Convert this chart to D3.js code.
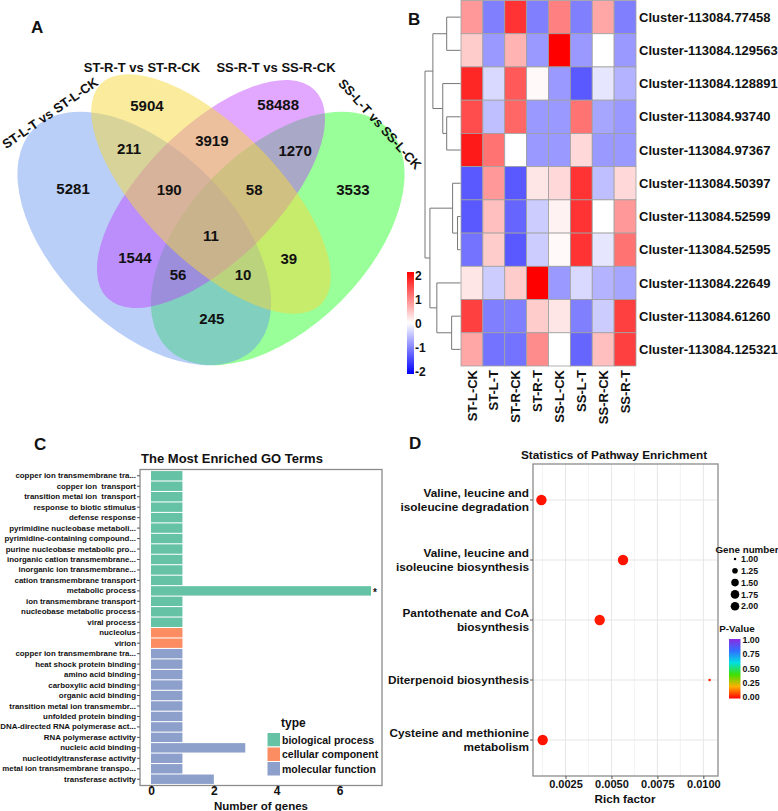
<!DOCTYPE html>
<html><head><meta charset="utf-8">
<script src="https://cdn.jsdelivr.net/npm/d3@7"></script>
<style>
body{margin:0;background:#fff;}
text{font-family:"Liberation Sans",Arial,Helvetica,sans-serif;font-weight:bold;fill:#111;}
</style>
</head><body>
<svg id="c" width="778" height="811"></svg>
<script>
// ================= DATA =================
// Panel A: Venn
const vennSets = ["ST-L-T vs ST-L-CK","ST-R-T vs ST-R-CK","SS-R-T vs SS-R-CK","SS-L-T vs SS-L-CK"];
const vennCounts = [5904,58488,211,3919,1270,5281,190,58,3533,11,1544,39,56,10,245];
// region label anchors in the Venn's unit square (VennDiagram quad layout)
const vennRegionU = [0.356,0.651,0.316,0.502,0.689,0.190,0.406,0.597,0.819,0.5,0.329,0.675,0.426,0.572,0.502];
const vennRegionV = [0.768,0.772,0.671,0.691,0.667,0.583,0.581,0.581,0.581,0.476,0.426,0.424,0.388,0.390,0.289];

// Panel B: heatmap
const heatRows = ["Cluster-113084.77458","Cluster-113084.129563","Cluster-113084.128891","Cluster-113084.93740","Cluster-113084.97367","Cluster-113084.50397","Cluster-113084.52599","Cluster-113084.52595","Cluster-113084.22649","Cluster-113084.61260","Cluster-113084.125321"];
const heatCols = ["ST-L-CK","ST-L-T","ST-R-CK","ST-R-T","SS-L-CK","SS-L-T","SS-R-CK","SS-R-T"];
const heatValues = [
 [ 0.8,-1.0, 1.6,-1.0, 1.0,-1.0, 0.7,-1.0],
 [ 0.4,-0.8, 0.6,-0.8, 2.0,-0.8, 0.0,-0.8],
 [ 1.7,-0.3, 1.3, 0.05,-0.8,-1.3,-0.2,-0.6],
 [ 1.4,-0.5, 1.2,-0.8,-0.8, 1.1,-0.7,-0.8],
 [ 1.8, 1.1, 0.0,-0.8,-0.8, 0.3,-0.8,-0.8],
 [-1.3, 0.8,-1.3, 0.2, 0.3, 1.6,-0.5, 0.3],
 [-1.3, 0.5,-1.2,-0.4, 0.1, 1.6, 0.0, 0.8],
 [-1.1, 0.4,-1.3,-0.4, 0.05, 1.6,-0.2, 1.1],
 [ 0.2,-0.4, 0.4, 2.0,-0.8,-0.3,-0.6,-0.7],
 [ 1.5,-1.0,-1.0, 0.4, 0.2,-1.0,-0.4, 1.5],
 [ 0.7,-1.1,-1.1, 0.9, 0.0,-1.2, 0.5, 1.5]
];
// row dendrogram: merge heights, leaves are row indices
const dendro = {h:36, c:[
  {h:28, c:[ {h:14, c:[0,1]}, {h:18, c:[2, {h:14, c:[3,4]}]} ]},
  {h:31, c:[ {h:8, c:[5, {h:3, c:[6,7]}]}, {h:24, c:[8, {h:9, c:[9,10]}]} ]}
]};
const heatLegendTicks = [2,1,0,-1,-2];

// Panel C: GO terms
const goTerms = ["copper ion transmembrane tra...","copper ion  transport","transition metal ion  transport","response to biotic stimulus","defense response","pyrimidine nucleobase metaboli...","pyrimidine-containing compound...","purine nucleobase metabolic pro...","inorganic cation transmembrane...","inorganic ion transmembrane...","cation transmembrane transport","metabolic process","ion transmembrane transport","nucleobase metabolic process","viral process","nucleolus","virion","copper ion transmembrane tra...","heat shock protein binding","amino acid binding","carboxylic acid binding","organic acid binding","transition metal ion transmembr...","unfolded protein binding","DNA-directed RNA polymerase act...","RNA polymerase activity","nucleic acid binding","nucleotidyltransferase activity","metal ion transmembrane transpo...","transferase activity"];
const goType = ["BP","BP","BP","BP","BP","BP","BP","BP","BP","BP","BP","BP","BP","BP","BP","CC","CC","MF","MF","MF","MF","MF","MF","MF","MF","MF","MF","MF","MF","MF"];
const goCounts = [1,1,1,1,1,1,1,1,1,1,1,7,1,1,1,1,1,1,1,1,1,1,1,1,1,1,3,1,1,2];
const goSignif = [11];
const goTypeNames = ["biological process","cellular component","molecular function"];
const goXTicks = [0,2,4,6];

// Panel D: KEGG
const pathways = ["Valine, leucine and\nisoleucine degradation","Valine, leucine and\nisoleucine biosynthesis","Pantothenate and CoA\nbiosynthesis","Diterpenoid biosynthesis","Cysteine and methionine\nmetabolism"];
const richFactor = [0.00119,0.00563,0.00436,0.01034,0.00126];
const geneNumber = [2,2,2,1,2];
const pValue = [0.02,0.02,0.03,0.04,0.02];
const richTicks = [0.0025,0.005,0.0075,0.01];
const geneLegend = [1.00,1.25,1.50,1.75,2.00];
const pLegend = [0,0.25,0.5,0.75,1];

// ================= DRAW =================
const svg = d3.select("#c");
const letter = (x,y,t)=>svg.append("text").attr("x",x).attr("y",y).attr("font-size",17).text(t);

// ---------- Panel A ----------
const A = svg.append("g");
const VS = 445;
const vu = d3.scaleLinear().domain([0,1]).range([211-0.5*VS, 211+0.5*VS]);
const vv = d3.scaleLinear().domain([0,1]).range([194+0.57*VS, 194-0.43*VS]);
const ellipses = [
 {x:0.65,y:0.47,a:0.35,b:0.20,rot:-45,color:"#00ff00",op:0.4},
 {x:0.35,y:0.47,a:0.35,b:0.20,rot:45,color:"#6495ed",op:0.45},
 {x:0.50,y:0.57,a:0.33,b:0.15,rot:-45,color:"#bf3eff",op:0.45},
 {x:0.50,y:0.57,a:0.35,b:0.15,rot:45,color:"#f5d73c",op:0.5}
];
A.selectAll("ellipse").data(ellipses).join("ellipse")
 .attr("cx",d=>vu(d.x)).attr("cy",d=>vv(d.y))
 .attr("rx",d=>vu(d.a)-vu(0)).attr("ry",d=>vu(d.b)-vu(0))
 .attr("transform",d=>`rotate(${d.rot} ${vu(d.x)} ${vv(d.y)})`)
 .attr("fill",d=>d.color).attr("fill-opacity",d=>d.op).attr("stroke","none");
A.selectAll("text.cnt").data(vennCounts).join("text").attr("class","cnt")
 .attr("x",(d,i)=>vu(vennRegionU[i])).attr("y",(d,i)=>vv(vennRegionV[i]))
 .attr("dy","0.36em").attr("text-anchor","middle").attr("font-size",15).text(d=>d);
const setLab = [
 {x:50,y:113,r:-35},{x:142,y:67,r:0},{x:276,y:67,r:0},{x:380,y:124,r:48}
];
A.selectAll("text.set").data(vennSets).join("text").attr("class","set")
 .attr("transform",(d,i)=>`translate(${setLab[i].x},${setLab[i].y}) rotate(${setLab[i].r})`)
 .attr("dy","0.36em").attr("text-anchor","middle").attr("font-size",13).text(d=>d);
letter(31,33,"A");

// ---------- Panel B ----------
const B = svg.append("g");
const hx = d3.scaleBand().domain(heatCols).range([461,636]);
const hy = d3.scaleBand().domain(d3.range(heatRows.length)).range([0.5,366]);
const hcol = d3.scaleLinear().domain([-2,0,2]).range(["#0000ff","#ffffff","#ff0000"]);
heatValues.forEach((row,ri)=>{
  B.selectAll(null).data(row).join("rect")
   .attr("x",(d,ci)=>hx(heatCols[ci])).attr("y",hy(ri))
   .attr("width",hx.bandwidth()).attr("height",hy.bandwidth())
   .attr("fill",d=>hcol(d)).attr("stroke","#a0a0a0").attr("stroke-width",0.8);
});
B.selectAll("text.rl").data(heatRows).join("text").attr("class","rl")
 .attr("x",639).attr("y",(d,i)=>hy(i)+hy.bandwidth()/2).attr("dy","0.36em")
 .attr("font-size",13).text(d=>d);
B.selectAll("text.cl").data(heatCols).join("text").attr("class","cl")
 .attr("transform",d=>`translate(${hx(d)+hx.bandwidth()/2+4.6},370) rotate(-90)`)
 .attr("text-anchor","end").attr("font-size",13).text(d=>d);
// dendrogram
const dx = d3.scaleLinear().domain([0,36]).range([460.5,425]);
const gD = B.append("g").attr("stroke","#777").attr("stroke-width",1).attr("fill","none");
function drawDendro(node){
  if (typeof node === "number") return {x:dx(0), y:hy(node)+hy.bandwidth()/2};
  const kids = node.c.map(drawDendro);
  const x = dx(node.h);
  kids.forEach(k=>gD.append("line").attr("x1",x).attr("x2",k.x).attr("y1",k.y).attr("y2",k.y));
  gD.append("line").attr("x1",x).attr("x2",x).attr("y1",kids[0].y).attr("y2",kids[1].y);
  return {x, y:(kids[0].y+kids[1].y)/2};
}
drawDendro(dendro);
// heat legend
const defs = svg.append("defs");
const hg = defs.append("linearGradient").attr("id","hg").attr("x1",0).attr("y1",1).attr("x2",0).attr("y2",0);
[-2,-1,0,1,2].forEach(v=>hg.append("stop").attr("offset",(v+2)/4).attr("stop-color",hcol(v)));
B.append("rect").attr("x",407).attr("y",272).attr("width",7).attr("height",102).attr("fill","url(#hg)");
const hl = d3.scaleLinear().domain([-2,2]).range([372,276]);
B.selectAll("text.hl").data(heatLegendTicks).join("text").attr("class","hl")
 .attr("x",415).attr("y",d=>hl(d)).attr("dy","0.36em").attr("font-size",12).text(d=>d);
letter(408,25,"B");

// ---------- Panel C ----------
const C = svg.append("g");
const cx = d3.scaleLinear().domain([-0.35,7.35]).range([140,382]);
const cy = d3.scaleBand().domain(d3.range(goTerms.length)).range([469.5,785.5]).paddingInner(0.1).paddingOuter(0.15);
const ccol = d3.scaleOrdinal().domain(["BP","CC","MF"]).range(["#66c2a5","#fc8d62","#8da0cb"]);
C.append("rect").attr("x",140).attr("y",469.5).attr("width",242).attr("height",316).attr("fill","#fff");
C.selectAll("rect.bar").data(goCounts).join("rect").attr("class","bar")
 .attr("x",cx(0)).attr("y",(d,i)=>cy(i)).attr("width",d=>cx(d)-cx(0)).attr("height",cy.bandwidth())
 .attr("fill",(d,i)=>ccol(goType[i]));
C.selectAll("text.star").data(goSignif).join("text").attr("class","star")
 .attr("x",i=>cx(goCounts[i])+2).attr("y",i=>cy(i)+cy.bandwidth()/2+5).attr("font-size",10).text("*");
C.append("rect").attr("x",140).attr("y",469.5).attr("width",242).attr("height",316)
 .attr("fill","none").attr("stroke","#8c8c8c").attr("stroke-width",1.3);
const cya = C.append("g").attr("transform","translate(140,0)")
 .call(d3.axisLeft(cy).tickSize(3).tickFormat(i=>goTerms[i]));
cya.select(".domain").remove();
cya.selectAll("line").attr("stroke","#555");
cya.selectAll("text").attr("font-size",7.9).attr("font-family",null).style("white-space","pre").attr("x",-4);
const cxa = C.append("g").attr("transform","translate(0,785.5)")
 .call(d3.axisBottom(cx).tickValues(goXTicks).tickSize(3));
cxa.select(".domain").remove();
cxa.selectAll("line").attr("stroke","#555");
cxa.selectAll("text").attr("font-size",12).attr("font-family",null).attr("y",1);
C.append("text").attr("x",261).attr("y",810).attr("text-anchor","middle").attr("font-size",11.5).text("Number of genes");
C.append("text").attr("x",232).attr("y",463).attr("text-anchor","middle").attr("font-size",13).text("The Most Enriched GO Terms");
// legend
C.append("text").attr("x",281).attr("y",727).attr("font-size",12).text("type");
goTypeNames.forEach((t,i)=>{
  C.append("rect").attr("x",267).attr("y",732.5+i*14.5).attr("width",13.5).attr("height",14.5)
   .attr("fill",ccol.range()[i]).attr("stroke","#fff").attr("stroke-width",1);
  C.append("text").attr("x",282).attr("y",732.5+i*14.5+7.25).attr("dy","0.36em").attr("font-size",10.5).text(t);
});
letter(34,450,"C");

// ---------- Panel D ----------
const D = svg.append("g");
const [rmin,rmax] = d3.extent(richFactor);
const pad = (rmax-rmin)*0.05;
const dxs = d3.scaleLinear().domain([rmin-pad,rmax+pad]).range([533,718]);
const dys = d3.scalePoint().domain(d3.range(pathways.length)).range([464,776]).padding(0.6);
const rA = d3.scaleLinear().domain([1,2]).range([1.6,27]);
const rad = g=>Math.sqrt(rA(g));
const pcol = d3.scaleLinear().domain([0,0.2,0.4,0.6,0.8,1]).range(["#ff0000","#ffb000","#40e000","#00e0e0","#3070ff","#8a2be2"]);
// grid
const minor = [0.00125,0.00375,0.00625,0.00875];
D.selectAll("line.mg").data(minor).join("line").attr("class","mg")
 .attr("x1",d=>dxs(d)).attr("x2",d=>dxs(d)).attr("y1",464).attr("y2",776).attr("stroke","#f0f0f0").attr("stroke-width",0.8);
D.selectAll("line.Mg").data(richTicks).join("line").attr("class","Mg")
 .attr("x1",d=>dxs(d)).attr("x2",d=>dxs(d)).attr("y1",464).attr("y2",776).attr("stroke","#e6e6e6").attr("stroke-width",1);
D.selectAll("line.hg").data(pathways).join("line").attr("class","hg")
 .attr("x1",533).attr("x2",718).attr("y1",(d,i)=>dys(i)).attr("y2",(d,i)=>dys(i)).attr("stroke","#e6e6e6").attr("stroke-width",1);
D.selectAll("circle.pt").data(richFactor).join("circle").attr("class","pt")
 .attr("cx",d=>dxs(d)).attr("cy",(d,i)=>dys(i)).attr("r",(d,i)=>rad(geneNumber[i]))
 .attr("fill",(d,i)=>pcol(pValue[i]));
D.append("rect").attr("x",533).attr("y",464).attr("width",185).attr("height",312)
 .attr("fill","none").attr("stroke","#8c8c8c").attr("stroke-width",1.3);
// y labels
pathways.forEach((p,i)=>{
  const lines = p.split("\n");
  const t = D.append("text").attr("text-anchor","end").attr("font-size",11.8);
  lines.forEach((l,j)=>{
    t.append("tspan").attr("x",529).attr("y",dys(i)+(j-(lines.length-1)/2)*14).attr("dy","0.36em").text(l);
  });
  D.append("line").attr("x1",530).attr("x2",533).attr("y1",dys(i)).attr("y2",dys(i)).attr("stroke","#555");
});
const dxa = D.append("g").attr("transform","translate(0,776)")
 .call(d3.axisBottom(dxs).tickValues(richTicks).tickSize(3).tickFormat(d3.format(".4f")));
dxa.select(".domain").remove();
dxa.selectAll("line").attr("stroke","#555");
dxa.selectAll("text").attr("font-size",11).attr("font-family",null).attr("y",4);
D.append("text").attr("x",625).attr("y",803).attr("text-anchor","middle").attr("font-size",11.7).text("Rich factor");
D.append("text").attr("x",614).attr("y",459).attr("text-anchor","middle").attr("font-size",11.8).text("Statistics of Pathway Enrichment");
// size legend
D.append("text").attr("x",747).attr("y",553).attr("text-anchor","middle").attr("font-size",9.8).text("Gene number");
geneLegend.forEach((g,i)=>{
  const y = 559+i*11.8;
  D.append("circle").attr("cx",735).attr("cy",y).attr("r",Math.min(rad(g),4.3)).attr("fill","#000");
  D.append("text").attr("x",741).attr("y",y).attr("dy","0.36em").attr("font-size",8.8).text(g.toFixed(2));
});
// p-value legend
D.append("text").attr("x",737).attr("y",632).attr("text-anchor","middle").attr("font-size",9.8).text("P-Value");
const pg = defs.append("linearGradient").attr("id","pg").attr("x1",0).attr("y1",1).attr("x2",0).attr("y2",0);
pcol.domain().forEach(v=>pg.append("stop").attr("offset",v).attr("stop-color",pcol(v)));
const pl = d3.scaleLinear().domain([0,1]).range([697,640]);
D.append("rect").attr("x",729).attr("y",pl(1)-1).attr("width",11.5).attr("height",pl(0)-pl(1)+2.5).attr("fill","url(#pg)");
D.selectAll("text.pl").data(pLegend).join("text").attr("class","pl")
 .attr("x",742.5).attr("y",d=>pl(d)).attr("dy","0.36em").attr("font-size",8.8).text(d=>d.toFixed(2));
letter(409,449,"D");
</script>
</body></html>
